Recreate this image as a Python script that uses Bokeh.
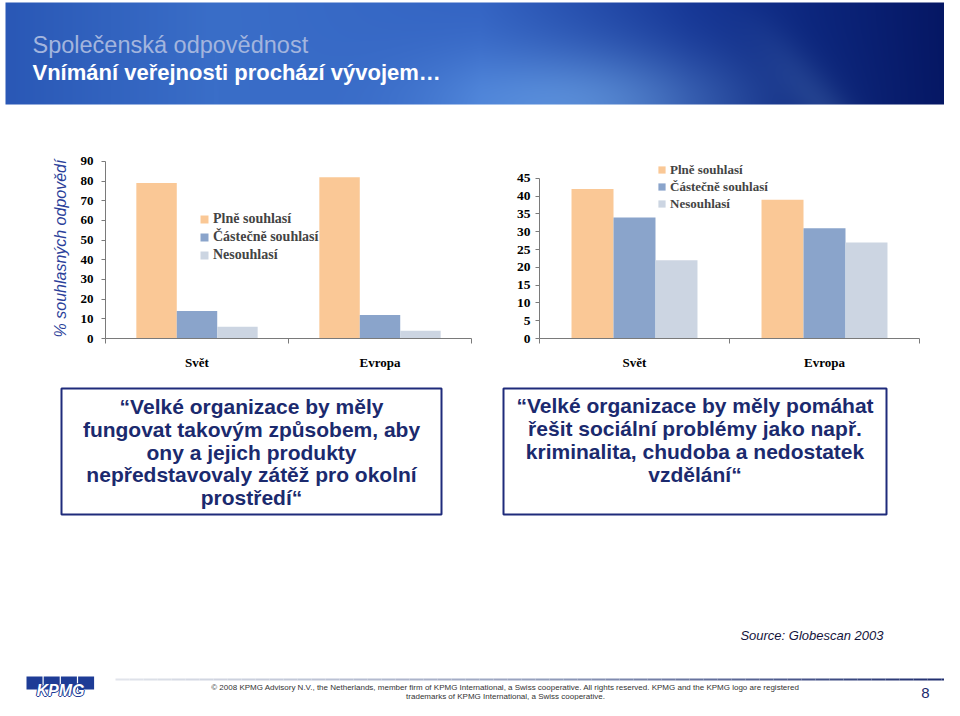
import numpy as np
from bokeh.plotting import figure
from bokeh.models import Range1d, FixedTicker, Legend, LegendItem, ColumnDataSource
from bokeh.layouts import column, row
from bokeh.transform import dodge
from bokeh.core.properties import value
from bokeh.embed import file_html
from bokeh.resources import INLINE

# ---------------- data ----------------
regions = ["Svět", "Evropa"]
series = ["Plně souhlasí", "Částečně souhlasí", "Nesouhlasí"]
env_plne = [79, 82]
env_castecne = [14, 12]
env_nesouhlasi = [6, 4]
soc_plne = [42, 39]
soc_castecne = [34, 31]
soc_nesouhlasi = [22, 27]
left_ticks = [0, 10, 20, 30, 40, 50, 60, 70, 80, 90]
right_ticks = [0, 5, 10, 15, 20, 25, 30, 35, 40, 45]
colors = ["#FAC896", "#8AA4CB", "#CCD5E2"]

title1 = "Společenská odpovědnost"
title2 = "Vnímání veřejnosti prochází vývojem…"
quote_left = ["“Velké organizace by měly", "fungovat takovým způsobem, aby",
              "ony a jejich produkty", "nepředstavovaly zátěž pro okolní", "prostředí“"]
quote_right = ["“Velké organizace by měly pomáhat", "řešit sociální problémy jako např.",
               "kriminalita, chudoba a nedostatek", "vzdělání“"]
source_txt = "Source: Globescan 2003"
copy1 = ("© 2008 KPMG Advisory N.V., the Netherlands, member firm of KPMG International, "
         "a Swiss cooperative. All rights reserved. KPMG and the KPMG logo are registered")
copy2 = "trademarks of KPMG International, a Swiss cooperative."

SERIF_S = "Liberation Serif"
SANS_S = "Liberation Sans"
SANS = value(SANS_S)
AXIS_COL = "#7A7A7A"
NAVY = "#1B2A6E"

ROW_H = 242
BT, BB = 28, 30  # shared top/bottom borders of the two charts (frame 184 px)


def bar_chart(vals, yr, ybounds, yticks, w, bl, br, tick_size, leg_size,
              leg_loc, glyph, row_h, lab_standoff, ylabel=None):
    p = figure(width=w, height=ROW_H, output_backend="svg", toolbar_location=None,
               x_range=Range1d(0, len(regions)), y_range=Range1d(*yr),
               min_border_left=bl, min_border_right=br, min_border_top=BT,
               min_border_bottom=BB)
    p.outline_line_color = None
    p.grid.visible = False
    bw = 0.221
    xi = [i + 0.5 for i in range(len(regions))]
    src = ColumnDataSource(dict(x=xi, s0=vals[0], s1=vals[1], s2=vals[2]))
    items = []
    for k, off in enumerate([-bw, 0.0, bw]):
        r = p.vbar(x=dodge("x", off), top=f"s{k}", width=bw, source=src,
                   fill_color=colors[k], line_color=None)
        items.append(LegendItem(label=series[k], renderers=[r]))

    xa = p.xaxis[0]
    xa.ticker = FixedTicker(ticks=xi, minor_ticks=list(range(len(regions) + 1)))
    xa.major_label_overrides = {x: r for x, r in zip(xi, regions)}
    xa.major_tick_line_color = None
    xa.major_tick_out = 0
    xa.major_tick_in = 0
    xa.minor_tick_out = 5
    xa.minor_tick_in = 0
    xa.minor_tick_line_color = AXIS_COL
    xa.axis_line_color = AXIS_COL
    xa.major_label_standoff = 11
    xa.major_label_text_font = SERIF_S
    xa.major_label_text_font_style = "bold"
    xa.major_label_text_font_size = "13px"
    xa.major_label_text_color = "black"

    ya = p.yaxis[0]
    ya.bounds = ybounds
    ya.ticker = FixedTicker(ticks=yticks)
    ya.major_tick_out = 4
    ya.major_tick_in = 0
    ya.minor_tick_out = 0
    ya.axis_line_color = AXIS_COL
    ya.major_tick_line_color = AXIS_COL
    ya.major_label_standoff = lab_standoff
    ya.major_label_text_font = SERIF_S
    ya.major_label_text_font_style = "bold"
    ya.major_label_text_font_size = tick_size
    ya.major_label_text_color = "black"
    if ylabel:
        ya.axis_label = ylabel
        ya.axis_label_text_font = SANS_S
        ya.axis_label_text_font_style = "italic"
        ya.axis_label_text_font_size = "16px"
        ya.axis_label_text_color = "#2B3F9A"
        ya.axis_label_standoff = 9

    leg = Legend(items=items, location=leg_loc, background_fill_alpha=0,
                 border_line_color=None, padding=0, margin=0, spacing=0,
                 glyph_width=glyph, glyph_height=glyph, label_height=row_h,
                 label_text_font=SERIF_S, label_text_font_style="bold",
                 label_text_font_size=leg_size, label_standoff=4)
    p.add_layout(leg)
    return p


left = bar_chart([env_plne, env_castecne, env_nesouhlasi], (0, 91.5), (0, 90),
                 left_ticks, 472, 105, 1, "13px", "14px", (94, 74), 10, 18, 8,
                 ylabel="% souhlasných odpovědí")
right = bar_chart([soc_plne, soc_castecne, soc_nesouhlasi], (0, 50.58), (0, 45),
                  right_ticks, 472, 67, 25, "13.5px", "13px", (118, 126), 9, 17, 5)

# ---------------- header ----------------
W = 944
HH = 130
hdr = figure(width=W, height=HH, x_range=Range1d(0, W), y_range=Range1d(0, HH),
             output_backend="svg", toolbar_location=None, min_border=0,
             x_axis_type=None, y_axis_type=None)
hdr.outline_line_color = None
hdr.grid.visible = False

IW, BH = 950, 102
xs = np.linspace(0, 1, IW)
ys = np.linspace(0, 1, BH)
stops = [0.0, 0.22, 0.5, 0.72, 0.85, 1.0]
sr = [42, 58, 52, 22, 12, 5]
sg = [88, 110, 100, 55, 38, 22]
sb = [182, 200, 195, 150, 125, 98]
base = np.stack([np.interp(xs, stops, c) for c in (sr, sg, sb)], axis=-1)
X, Y = np.meshgrid(xs, ys)
spot = np.exp(-(((X - 0.62) / 0.16) ** 2) - ((Y / 0.55) ** 2))
streak = 0.35 * np.exp(-(((X - 0.86 + 0.08 * Y) / 0.03) ** 2)) * (1 - Y)
add = np.array([50, 60, 40])
rgb = base[None, :, :] + (spot + streak)[:, :, None] * add[None, None, :]
rgb = np.clip(rgb, 0, 255).astype(np.uint8)
img = np.empty((BH, IW), dtype=np.uint32)
view = img.view(dtype=np.uint8).reshape((BH, IW, 4))
view[:, :, 0] = rgb[:, :, 0]
view[:, :, 1] = rgb[:, :, 1]
view[:, :, 2] = rgb[:, :, 2]
view[:, :, 3] = 255
hdr.image_rgba(image=[img], x=5, y=HH - 104, dw=IW, dh=BH)
hdr.text(x=[32], y=[HH - 44], text=[title1], text_font=SANS, text_font_size="23.5px",
         text_color="#A3B5DE", text_baseline="middle")
hdr.text(x=[32], y=[HH - 72], text=[title2], text_font=SANS, text_font_size="22px",
         text_font_style="bold", text_color="white", text_baseline="middle")

# ---------------- bottom ----------------
bot = figure(width=W, height=328, x_range=Range1d(0, W), y_range=Range1d(700, 372),
             output_backend="svg", toolbar_location=None, min_border=0,
             x_axis_type=None, y_axis_type=None)
bot.outline_line_color = None
bot.grid.visible = False

bot.quad(left=[61, 503], right=[441, 886], top=[388, 388], bottom=[514, 514],
         fill_color=None, line_color="#1F2B7B", line_width=2)
bot.text(x=[251] * len(quote_left), y=[406, 429, 452, 474, 497], text=quote_left,
         text_align="center", text_baseline="middle", text_font=SANS,
         text_font_style="bold", text_font_size="21px", text_color=NAVY)
bot.text(x=[694.5] * len(quote_right), y=[405, 428, 451, 474], text=quote_right,
         text_align="center", text_baseline="middle", text_font=SANS,
         text_font_style="bold", text_font_size="21px", text_color=NAVY)
bot.text(x=[883], y=[635], text=[source_txt], text_align="right", text_baseline="middle",
         text_font=SANS, text_font_style="italic", text_font_size="13px",
         text_color="#14143C")

# footer rule (gradient)
n = 60
fx = np.linspace(115, 955, n + 1)
t = np.linspace(0, 1, n)
fr = (np.interp(t, [0, 0.5, 1], [225, 150, 30])).astype(int)
fg = (np.interp(t, [0, 0.5, 1], [228, 160, 45])).astype(int)
fb = (np.interp(t, [0, 0.5, 1], [235, 190, 110])).astype(int)
fcols = ["#%02x%02x%02x" % (a, b, c) for a, b, c in zip(fr, fg, fb)]
FY = 679
bot.segment(x0=fx[:-1], y0=[FY] * n, x1=fx[1:], y1=[FY] * n, line_color=fcols, line_width=2)

bot.text(x=[505, 505], y=[687, 695.5], text=[copy1, copy2], text_align="center",
         text_baseline="middle", text_font=SANS, text_font_size="8px", text_color="#333333")
bot.text(x=[925], y=[692], text=["8"], text_align="center", text_baseline="middle",
         text_font=SANS, text_font_size="15px", text_color=NAVY)

# KPMG logo
lx = [26 + i * 17.2 for i in range(4)]
bot.quad(left=lx, right=[v + 16 for v in lx], top=[676] * 4, bottom=[689] * 4,
         fill_color="#1E3C96", line_color=None)
for dx, dy in [(-1, 0), (1, 0), (0, -1), (0, 1)]:
    bot.text(x=[60 + dx], y=[690 + dy], text=["KPMG"], text_align="center",
             text_baseline="middle", text_font=SANS, text_font_style="bold italic",
             text_font_size="16px", text_color="#1E3C96")
bot.text(x=[60], y=[690], text=["KPMG"], text_align="center", text_baseline="middle",
         text_font=SANS, text_font_style="bold italic", text_font_size="16px",
         text_color="white")

layout = column(hdr, row(left, right, spacing=0), bot, spacing=0)
open("out.html", "w").write(file_html(layout, INLINE))
